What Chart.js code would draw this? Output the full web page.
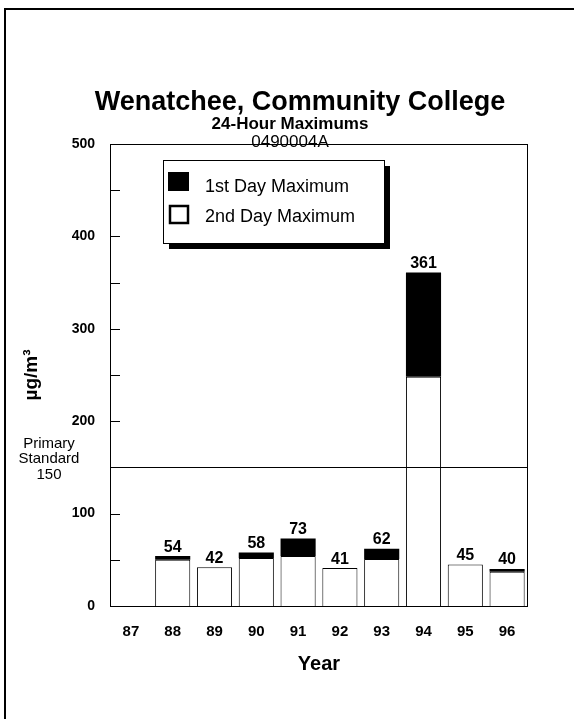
<!DOCTYPE html>
<html>
<head>
<meta charset="utf-8">
<title>Wenatchee, Community College</title>
<script src="https://cdn.jsdelivr.net/npm/chart.js@4/dist/chart.umd.min.js"></script>
<style>
  html, body { margin: 0; padding: 0; background: #fff; }
  #wrap { width: 574px; height: 719px; }
</style>
</head>
<body>
<div id="wrap"><canvas id="maxChart" width="574" height="719"></canvas></div>
<script>
// values
const years = ["87", "88", "89", "90", "91", "92", "93", "94", "95", "96"];
const firstDayMax = [null, 54, 42, 58, 73, 41, 62, 361, 45, 40];
const secondDayMax = [null, 50, 42, 52, 54, 41, 51, 248, 45, 37];
const yLabels = [0, 100, 200, 300, 400, 500];
const primaryStandard = 150;

const FONT = "Arial, 'Liberation Sans', sans-serif";

// white background, page frame, plot box, ticks, standard line, labels, legend, titles
const decorations = {
  id: "decorations",
  beforeDraw(chart) {
    const ctx = chart.ctx;
    ctx.save();
    ctx.fillStyle = "#fff";
    ctx.fillRect(0, 0, chart.width, chart.height);
    ctx.fillStyle = "#000";
    ctx.fillRect(4, 8, chart.width - 4, 2);
    ctx.fillRect(4, 8, 2, chart.height - 8);
    ctx.restore();
  },
  afterDraw(chart) {
    const ctx = chart.ctx;
    const area = chart.chartArea;
    const y = chart.scales.y;
    ctx.save();
    ctx.strokeStyle = "#000";
    ctx.lineWidth = 1;

    // plot box
    ctx.strokeRect(area.left + 0.5, area.top + 0.5, area.right - area.left - 1, area.bottom - area.top);

    // inward ticks every 50
    y.ticks.forEach((t) => {
      const py = Math.round(y.getPixelForValue(t.value)) + 0.5;
      ctx.beginPath();
      ctx.moveTo(area.left, py);
      ctx.lineTo(area.left + 10, py);
      ctx.stroke();
    });

    // primary standard
    const sy = Math.round(y.getPixelForValue(primaryStandard)) + 0.5;
    ctx.beginPath();
    ctx.moveTo(area.left, sy);
    ctx.lineTo(area.right, sy);
    ctx.stroke();
    ctx.fillStyle = "#000";
    ctx.font = "15px " + FONT;
    ctx.textAlign = "center";
    ctx.textBaseline = "middle";
    ctx.fillText("Primary", 49, sy - 24);
    ctx.fillText("Standard", 49, sy - 9);
    ctx.fillText(String(primaryStandard), 49, sy + 7);

    // value labels above each bar
    const meta = chart.getDatasetMeta(1);
    ctx.font = "bold 16px " + FONT;
    firstDayMax.forEach((v, i) => {
      if (v == null) return;
      const el = meta.data[i];
      ctx.fillText(String(v), el.x, y.getPixelForValue(v) - 9);
    });

    // legend
    const lx = 163, ly = 160, lw = 221, lh = 83;
    ctx.fillRect(lx + 6, ly + 6, lw, lh);
    ctx.fillStyle = "#fff";
    ctx.fillRect(lx, ly, lw, lh);
    ctx.strokeRect(lx + 0.5, ly + 0.5, lw, lh);
    ctx.fillStyle = "#000";
    ctx.fillRect(lx + 5, ly + 12, 21, 19);
    ctx.lineWidth = 2.5;
    ctx.strokeRect(lx + 7, ly + 46, 18, 17);
    ctx.font = "18px " + FONT;
    ctx.textAlign = "left";
    ctx.fillText(chart.data.datasets[1].label, lx + 42, ly + 27);
    ctx.fillText(chart.data.datasets[0].label, lx + 42, ly + 57);

    // titles
    ctx.textAlign = "center";
    ctx.font = "bold 27px " + FONT;
    ctx.fillText("Wenatchee, Community College", 300, 103);
    ctx.font = "bold 17px " + FONT;
    ctx.fillText("24-Hour Maximums", 290, 124);
    ctx.font = "17px " + FONT;
    ctx.fillText("0490004A", 290, 142);
    ctx.restore();
  },
};

new Chart(document.getElementById("maxChart"), {
  type: "bar",
  data: {
    labels: years,
    datasets: [
      {
        label: "2nd Day Maximum",
        data: secondDayMax,
        backgroundColor: "#fff",
        borderColor: "#000",
        borderWidth: 1,
      },
      {
        label: "1st Day Maximum",
        data: secondDayMax.map((s, i) => (firstDayMax[i] == null ? null : [s, firstDayMax[i]])),
        backgroundColor: "#000",
        borderWidth: 0,
      },
    ],
  },
  options: {
    responsive: false,
    animation: false,
    events: [],
    barPercentage: 0.84,
    categoryPercentage: 1,
    layout: { padding: { left: 5, right: 46, top: 144, bottom: 43 } },
    plugins: {
      legend: { display: false },
      tooltip: { enabled: false },
    },
    scales: {
      x: {
        stacked: true,
        grid: { display: false, drawTicks: false },
        border: { display: false },
        ticks: { color: "#000", font: { family: FONT, size: 15, weight: "bold" }, padding: 17 },
        title: {
          display: true,
          text: "Year",
          color: "#000",
          font: { family: FONT, size: 20, weight: "bold" },
          padding: { top: 0, bottom: 0 },
        },
        afterFit: (s) => { s.height = 70; },
      },
      y: {
        stacked: false,
        min: 0,
        max: 500,
        grid: { display: false, drawTicks: false },
        border: { display: false },
        ticks: {
          stepSize: 50,
          autoSkip: false,
          color: "#000",
          padding: 15,
          font: { family: FONT, size: 14, weight: "bold" },
          callback: (v) => (yLabels.includes(v) ? v : ""),
        },
        title: {
          display: true,
          text: "µg/m³",
          color: "#000",
          font: { family: FONT, size: 19, weight: "bold" },
          padding: { top: 15, bottom: 0 },
        },
        afterFit: (s) => { s.width = 105; },
      },
    },
  },
  plugins: [decorations],
});
</script>
</body>
</html>
